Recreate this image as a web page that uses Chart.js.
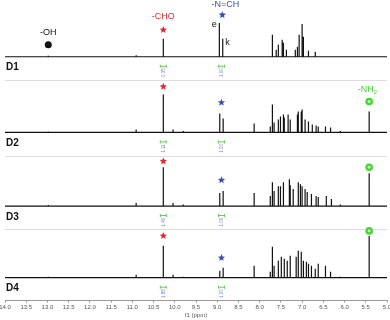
<!DOCTYPE html>
<html>
<head>
<meta charset="utf-8">
<script src="https://cdn.jsdelivr.net/npm/chart.js@4"></script>
<style>
    html, body { margin: 0; padding: 0; background: #fff; }
    canvas { display: block; }
</style>
</head>
<body>
<canvas id="nmr-chart" width="390" height="320"></canvas>
<script>
// Spectrum names, top to bottom
const spectrumNames = ['D1', 'D2', 'D3', 'D4'];

// Peak positions (ppm) and heights (a.u.)
const d1Shifts = [12.98, 10.91, 10.27, 8.95, 8.87, 7.70, 7.61, 7.56, 7.47, 7.44, 7.37, 7.16, 7.11, 7.07, 7.00, 6.97, 6.85, 6.69];
const d1Heights = [1, 1.5, 18, 34, 18, 22, 7, 12, 17, 14, 7, 7, 10, 22, 33, 20, 6, 5];

const d2Shifts = [12.98, 10.91, 10.27, 10.04, 9.80, 8.94, 8.86, 8.13, 7.75, 7.70, 7.66, 7.56, 7.51, 7.44, 7.42, 7.33, 7.28, 7.11, 7.09, 7.02, 7.00, 6.93, 6.85, 6.76, 6.67, 6.62, 6.45, 6.33, 6.10, 5.42];
const d2Heights = [1, 3, 38, 3, 1.5, 19, 14, 9, 6, 28, 10, 13, 16, 18, 15, 18, 13, 18, 21, 21, 23, 13, 11, 8, 7, 6, 6, 5, 1.5, 21];

const d3Shifts = [12.98, 10.91, 10.27, 10.04, 9.80, 8.94, 8.86, 8.13, 7.75, 7.70, 7.66, 7.56, 7.51, 7.44, 7.30, 7.28, 7.21, 7.09, 7.04, 7.00, 6.93, 6.88, 6.78, 6.67, 6.62, 6.43, 6.31, 6.10, 5.42];
const d3Heights = [1, 3, 39, 3, 1.5, 13, 15, 13, 10, 24, 15, 20, 20, 24, 27, 21, 17, 24, 22, 20, 17, 14, 12, 10, 9, 10, 7, 1.5, 33];

const d4Shifts = [12.98, 10.91, 10.27, 10.04, 9.80, 8.94, 8.86, 8.13, 7.75, 7.70, 7.66, 7.56, 7.49, 7.42, 7.35, 7.28, 7.14, 7.09, 7.02, 6.97, 6.90, 6.85, 6.78, 6.69, 6.62, 6.45, 6.33, 6.10, 5.42];
const d4Heights = [1, 3, 32, 3, 1, 7, 10, 12, 6, 31, 12, 17, 21, 19, 17, 22, 21, 27, 26, 17, 16, 14, 12, 9, 14, 12, 6, 1, 42];

// Integrals printed under each trace (-CHO, -N=CH)
const integralShifts = [10.27, 8.90];
const choIntegrals = ['0.35', '1.11', '1.40', '1.88'];
const imineIntegrals = ['1.00', '1.00', '1.00', '1.00'];

// Axis range and tick step (ppm)
const ppmMin = 5.0;
const ppmMax = 14.0;
const ppmStep = 0.5;

const RED = '#e8262d';
const BLUE = '#3a4fae';
const GREEN = '#44d633';

// Group labels and markers: panel index, ppm, height above baseline
const groupLabels = [
    { panel: 0, ppm: 12.98, value: 24, text: '-OH', color: '#111' },
    { panel: 0, ppm: 10.27, value: 40, text: '-CHO', color: RED },
    { panel: 0, ppm: 8.81, value: 52, text: '-N=CH', color: BLUE },
    { panel: 0, ppm: 9.07, value: 32, text: 'e', color: '#111' },
    { panel: 0, ppm: 8.76, value: 14, text: 'k', color: '#111' },
    { panel: 1, ppm: 5.46, value: 43, text: '-NH', sub: '2', color: GREEN }
];

const markers = [
    { panel: 0, ppm: 12.98, value: 12, type: 'dot', color: '#111' },
    { panel: 0, ppm: 10.27, value: 27, type: 'star', color: RED },
    { panel: 1, ppm: 10.27, value: 46, type: 'star', color: RED },
    { panel: 2, ppm: 10.27, value: 45, type: 'star', color: RED },
    { panel: 3, ppm: 10.27, value: 42, type: 'star', color: RED },
    { panel: 0, ppm: 8.88, value: 42, type: 'star', color: BLUE },
    { panel: 1, ppm: 8.90, value: 30, type: 'star', color: BLUE },
    { panel: 2, ppm: 8.90, value: 26, type: 'star', color: BLUE },
    { panel: 3, ppm: 8.90, value: 20, type: 'star', color: BLUE },
    { panel: 1, ppm: 5.42, value: 31, type: 'ring', color: GREEN },
    { panel: 2, ppm: 5.42, value: 39, type: 'ring', color: GREEN },
    { panel: 3, ppm: 5.42, value: 47, type: 'ring', color: GREEN }
];

// Panel y ranges (a.u.) and relative heights
const panelMins = [-23, -24, -23, -23];
const panelMaxs = [57, 53, 50, 49];
const panelWeights = [80, 77, 73, 72];

Chart.defaults.font.family = "'Liberation Sans', Arial, sans-serif";

// Build a stick spectrum: flat baseline with a spike per peak
function buildTrace(shifts, heights) {
    const points = [{ x: ppmMax, y: 0 }];
    const order = shifts.map((s, i) => i).sort((a, b) => shifts[b] - shifts[a]);
    order.forEach(i => {
        points.push({ x: shifts[i], y: 0 });
        points.push({ x: shifts[i], y: heights[i] });
        points.push({ x: shifts[i], y: 0 });
    });
    points.push({ x: ppmMin, y: 0 });
    return points;
}

function drawStar(ctx, cx, cy, r, color) {
    ctx.beginPath();
    for (let i = 0; i < 10; i++) {
        const rad = i % 2 === 0 ? r : r * 0.45;
        const a = -Math.PI / 2 + i * Math.PI / 5;
        const px = cx + rad * Math.cos(a);
        const py = cy + rad * Math.sin(a);
        if (i === 0) ctx.moveTo(px, py); else ctx.lineTo(px, py);
    }
    ctx.closePath();
    ctx.fillStyle = color;
    ctx.fill();
}

const annotationPlugin = {
    id: 'nmrAnnotations',
    afterDatasetsDraw(chart) {
        const ctx = chart.ctx;
        const xScale = chart.scales.x;
        const area = chart.chartArea;
        ctx.save();

        // Light separators between panels
        ctx.strokeStyle = '#dcdcdc';
        ctx.lineWidth = 1;
        for (let i = 1; i < spectrumNames.length; i++) {
            const y = Math.round(chart.scales['y' + i].top) + 0.5;
            ctx.beginPath();
            ctx.moveTo(area.left, y);
            ctx.lineTo(area.right, y);
            ctx.stroke();
        }

        spectrumNames.forEach((name, i) => {
            const yScale = chart.scales['y' + i];
            const base = yScale.getPixelForValue(0);

            // Spectrum name
            ctx.fillStyle = '#111';
            ctx.font = 'bold 10px "Liberation Sans", Arial, sans-serif';
            ctx.textAlign = 'left';
            ctx.textBaseline = 'middle';
            ctx.fillText(name, area.left + 1, base + 11);

            // Integral brackets and values
            const values = [choIntegrals[i], imineIntegrals[i]];
            integralShifts.forEach((ppm, k) => {
                const cx = xScale.getPixelForValue(ppm);
                const by = base + 9.5;
                ctx.strokeStyle = '#66cc55';
                ctx.lineWidth = 1;
                ctx.beginPath();
                ctx.moveTo(cx - 3, by);
                ctx.lineTo(cx + 3, by);
                ctx.moveTo(cx - 3, by - 1.5);
                ctx.lineTo(cx - 3, by + 1.5);
                ctx.moveTo(cx + 3, by - 1.5);
                ctx.lineTo(cx + 3, by + 1.5);
                ctx.stroke();
                ctx.save();
                ctx.translate(cx, by + 6.5);
                ctx.rotate(-Math.PI / 2);
                ctx.fillStyle = '#7b7fd0';
                ctx.font = '4.5px "Liberation Sans", Arial, sans-serif';
                ctx.textAlign = 'center';
                ctx.textBaseline = 'middle';
                ctx.fillText(values[k], 0, 0);
                ctx.restore();
            });
        });

        // Markers above peaks
        markers.forEach(m => {
            const cx = xScale.getPixelForValue(m.ppm);
            const cy = chart.scales['y' + m.panel].getPixelForValue(m.value);
            if (m.type === 'star') {
                drawStar(ctx, cx, cy, 3.8, m.color);
            } else if (m.type === 'dot') {
                ctx.beginPath();
                ctx.arc(cx, cy, 3.5, 0, Math.PI * 2);
                ctx.fillStyle = m.color;
                ctx.fill();
            } else {
                ctx.beginPath();
                ctx.arc(cx, cy, 3.8, 0, Math.PI * 2);
                ctx.fillStyle = m.color;
                ctx.fill();
                ctx.beginPath();
                ctx.arc(cx, cy, 1.4, 0, Math.PI * 2);
                ctx.fillStyle = '#dff7d8';
                ctx.fill();
            }
        });

        // Group labels
        groupLabels.forEach(l => {
            const cx = xScale.getPixelForValue(l.ppm);
            const cy = chart.scales['y' + l.panel].getPixelForValue(l.value);
            ctx.fillStyle = l.color;
            ctx.font = '9px "Liberation Sans", Arial, sans-serif';
            ctx.textBaseline = 'middle';
            if (l.sub) {
                const w = ctx.measureText(l.text).width;
                ctx.font = '6px "Liberation Sans", Arial, sans-serif';
                const ws = ctx.measureText(l.sub).width;
                const left = cx - (w + ws) / 2;
                ctx.textAlign = 'left';
                ctx.fillText(l.sub, left + w, cy + 3);
                ctx.font = '9px "Liberation Sans", Arial, sans-serif';
                ctx.fillText(l.text, left, cy);
            } else {
                ctx.textAlign = 'center';
                ctx.fillText(l.text, cx, cy);
            }
        });

        ctx.restore();
    }
};

const traces = [
    buildTrace(d1Shifts, d1Heights),
    buildTrace(d2Shifts, d2Heights),
    buildTrace(d3Shifts, d3Heights),
    buildTrace(d4Shifts, d4Heights)
];

const scales = {
    x: {
        type: 'linear',
        position: 'bottom',
        reverse: true,
        min: ppmMin,
        max: ppmMax,
        ticks: {
            stepSize: ppmStep,
            autoSkip: false,
            maxRotation: 0,
            padding: 1,
            color: '#555',
            font: { size: 6 },
            callback: v => v.toFixed(1)
        },
        grid: { drawOnChartArea: false, tickLength: 2, color: '#999' },
        border: { color: '#999' },
        title: { display: true, text: 'f1 (ppm)', color: '#555', font: { size: 6 }, padding: 0 },
        afterFit: s => { s.paddingLeft = 0; s.paddingRight = 0; }
    }
};

spectrumNames.forEach((name, i) => {
    scales['y' + i] = {
        type: 'linear',
        position: 'left',
        stack: 'nmr',
        stackWeight: panelWeights[i],
        weight: spectrumNames.length - i,
        min: panelMins[i],
        max: panelMaxs[i],
        ticks: { display: false },
        grid: { display: false, drawTicks: false },
        border: { display: false }
    };
});

const nmrChart = new Chart(document.getElementById('nmr-chart'), {
    type: 'line',
    data: {
        datasets: traces.map((points, i) => ({
            label: spectrumNames[i],
            data: points,
            yAxisID: 'y' + i,
            borderColor: '#111',
            borderWidth: 1.2,
            pointRadius: 0,
            tension: 0,
            fill: false
        }))
    },
    options: {
        responsive: false,
        animation: false,
        layout: { padding: { left: 5, right: 3, top: 0, bottom: 1 } },
        plugins: {
            legend: { display: false },
            tooltip: { enabled: false }
        },
        scales: scales
    },
    plugins: [annotationPlugin]
});
</script>
</body>
</html>
